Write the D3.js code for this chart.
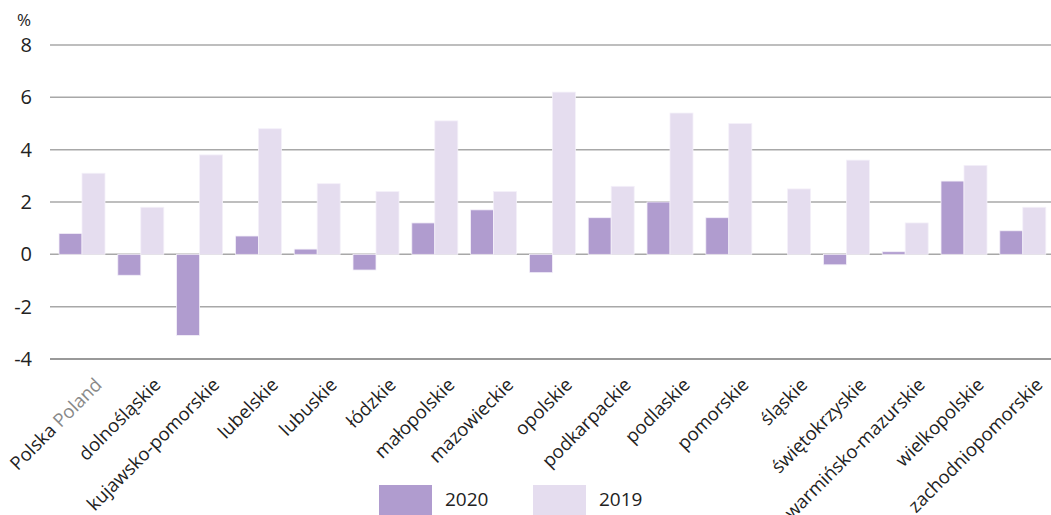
<!DOCTYPE html>
<html>
<head>
<meta charset="utf-8">
<script src="https://cdn.jsdelivr.net/npm/d3@7"></script>
<style>
  body { margin: 0; background: #fff; }
  text { font-family: "Open Sans", sans-serif; fill: #222; }
</style>
</head>
<body>
<div id="chart"></div>
<script>
var regions = ["Polska", "dolnośląskie", "kujawsko-pomorskie", "lubelskie", "lubuskie",
  "łódzkie", "małopolskie", "mazowieckie", "opolskie", "podkarpackie", "podlaskie",
  "pomorskie", "śląskie", "świętokrzyskie", "warmińsko-mazurskie", "wielkopolskie",
  "zachodniopomorskie"];
var values2020 = [0.8, -0.8, -3.1, 0.7, 0.2, -0.6, 1.2, 1.7, -0.7, 1.4, 2.0, 1.4, 0.0, -0.4, 0.1, 2.8, 0.9];
var values2019 = [3.1, 1.8, 3.8, 4.8, 2.7, 2.4, 5.1, 2.4, 6.2, 2.6, 5.4, 5.0, 2.5, 3.6, 1.2, 3.4, 1.8];
var years = ["2020", "2019"];
var yTicks = [-4, -2, 0, 2, 4, 6, 8];

var colors = { "2020": "#b09ccf", "2019": "#e5ddef" };

var width = 1051, height = 515;
var margin = { top: 45, right: 0, bottom: 156, left: 50 };

var svg = d3.select("#chart").append("svg")
  .attr("width", width)
  .attr("height", height);

var x0 = d3.scaleBand()
  .domain(regions)
  .range([52.6, 1052.2])
  .paddingInner(0.218)
  .paddingOuter(0.109);

var x1 = d3.scaleBand()
  .domain(years)
  .range([0, x0.bandwidth()]);

var y = d3.scaleLinear()
  .domain([-4, 8])
  .range([height - margin.bottom, margin.top]);

// grid lines
svg.append("g")
  .selectAll("line")
  .data(yTicks)
  .join("line")
  .attr("x1", margin.left)
  .attr("x2", width)
  .attr("y1", function(d) { return y(d); })
  .attr("y2", function(d) { return y(d); })
  .attr("stroke", function(d) { return d === -4 ? "#777" : "#a8a8a8"; })
  .attr("stroke-width", 1.5);

// y tick labels
svg.append("g")
  .selectAll("text")
  .data(yTicks)
  .join("text")
  .attr("x", 32)
  .attr("y", function(d) { return y(d); })
  .attr("dy", "0.35em")
  .attr("text-anchor", "end")
  .style("font-size", "20px")
  .text(function(d) { return d; });

svg.append("text")
  .attr("x", 17)
  .attr("y", 26)
  .style("font-size", "17px")
  .text("%");

// bars
var groups = svg.append("g")
  .selectAll("g")
  .data(regions)
  .join("g")
  .attr("transform", function(d) { return "translate(" + x0(d) + ",0)"; });

groups.selectAll("rect")
  .data(function(d, i) {
    return [
      { year: "2020", value: values2020[i] },
      { year: "2019", value: values2019[i] }
    ];
  })
  .join("rect")
  .attr("x", function(d) { return x1(d.year); })
  .attr("y", function(d) { return y(Math.max(0, d.value)); })
  .attr("width", x1.bandwidth())
  .attr("height", function(d) { return Math.abs(y(d.value) - y(0)); })
  .attr("fill", function(d) { return colors[d.year]; })
  .attr("stroke", "#f4f0f9")
  .attr("stroke-width", 0.8);

// x labels
var labels = svg.append("g")
  .selectAll("text")
  .data(regions)
  .join("text")
  .attr("text-anchor", "end")
  .attr("transform", function(d) {
    return "translate(" + (x0(d) + x0.bandwidth() / 2 + 21) + "," + 386 + ") rotate(-45)";
  })
  .style("font-size", "18.5px");

labels.each(function(d) {
  var t = d3.select(this);
  if (d === "Polska") {
    t.append("tspan").text("Polska ");
    t.append("tspan").style("fill", "#888").text("Poland");
  } else {
    t.text(d);
  }
});

// legend
var legend = svg.append("g")
  .selectAll("g")
  .data(years)
  .join("g")
  .attr("transform", function(d, i) { return "translate(" + (379 + i * 154) + ",485)"; });

legend.append("rect")
  .attr("width", 53)
  .attr("height", 30)
  .attr("fill", function(d) { return colors[d]; });

legend.append("text")
  .attr("x", 66)
  .attr("y", 21)
  .style("font-size", "19px")
  .text(function(d) { return d; });
</script>
</body>
</html>
